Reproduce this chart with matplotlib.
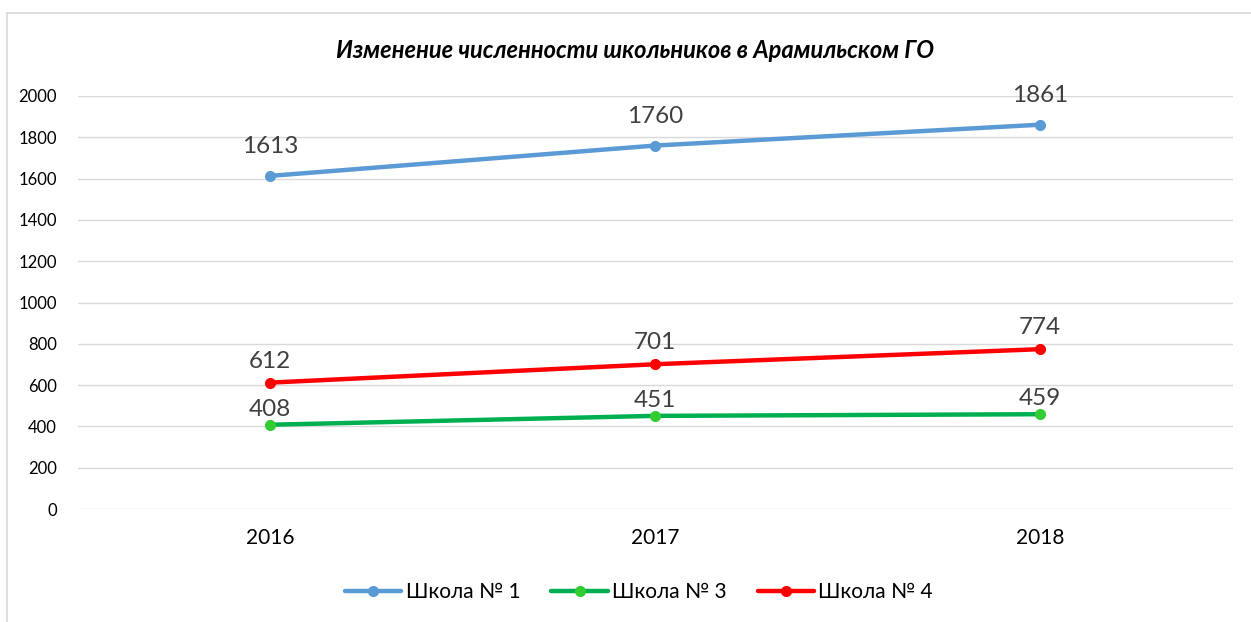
import matplotlib
matplotlib.use("Agg")
import matplotlib.pyplot as plt
from matplotlib.lines import Line2D

# data
years = ["2016", "2017", "2018"]
school1 = [1613, 1760, 1861]
school3 = [408, 451, 459]
school4 = [612, 701, 774]
series_names = ["Школа № 1", "Школа № 3", "Школа № 4"]
title = "Изменение численности школьников в Арамильском ГО"

plt.rcParams['font.family'] = ['Lato', 'DejaVu Sans']

W, H = 1251, 622
fig = plt.figure(figsize=(W / 100, H / 100), dpi=100)
ax = fig.add_axes([77.5 / W, 113 / H, 1155 / W, 413 / H])

x = range(len(years))
# line colour, marker colour, label offset (pt)
styles = [
    (school1, "#5B9BD5", "#5B9BD5", 13.5),
    (school3, "#00B050", "#33CC33", 3.5),
    (school4, "#FF0000", "#FF0000", 8),
]
handles = []
for (vals, lc, mc, off), name in zip(styles, series_names):
    h, = ax.plot(x, vals, color=lc, lw=3.2, marker="o", ms=7,
                 markerfacecolor=mc, markeredgecolor=mc, label=name,
                 solid_capstyle="round")
    handles.append(h)
    for xi, v in zip(x, vals):
        ax.annotate(str(v), (xi, v), xytext=(0, off), textcoords="offset points",
                    ha="center", va="bottom", fontsize=17.5, color="#404040")

ax.set_xlim(-0.5, len(years) - 0.5)
ax.set_ylim(0, 2000)
ax.set_yticks(range(0, 2001, 200))
ax.set_xticks(list(x))
ax.set_xticklabels(years, fontsize=15)
ax.tick_params(axis="x", length=0, pad=14)
ax.tick_params(axis="y", length=0, pad=15, labelsize=12)
ax.grid(axis="y", color="#D9D9D9", lw=1)
ax.set_axisbelow(True)
for s in ax.spines.values():
    s.set_visible(False)

fig.text(0.5 * (338 + 932) / W, 1 - 50 / H, title, ha="center", va="center",
         fontsize=17, fontweight="bold", fontstyle="italic", color="#000000")

fig.legend(handles=handles, loc="center", bbox_to_anchor=(639 / W, 1 - 592 / H),
           ncol=3, frameon=False, fontsize=15, handlelength=2.7,
           columnspacing=1.5, handletextpad=0.2)

# chart border (top and left visible)
fig.add_artist(Line2D([7 / W, 1], [1 - 13 / H, 1 - 13 / H], color="#D9D9D9", lw=1.2,
                      transform=fig.transFigure))
fig.add_artist(Line2D([7 / W, 7 / W], [0, 1 - 13 / H], color="#D9D9D9", lw=1.2,
                      transform=fig.transFigure))

fig.savefig("out.png", dpi=100)
